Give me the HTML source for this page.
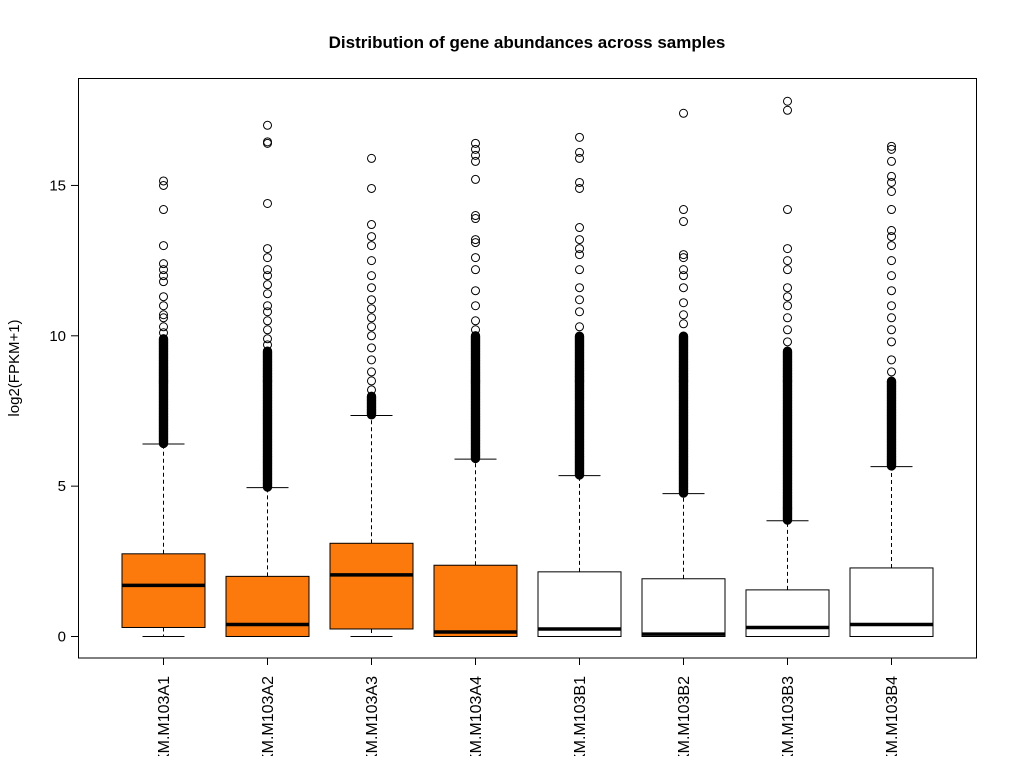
<!DOCTYPE html>
<html><head><meta charset="utf-8"><style>
html,body{margin:0;padding:0;background:#fff;}
svg text{font-family:"Liberation Sans",Arial,sans-serif;}
</style></head><body>
<svg id="chart" width="1017" height="756" viewBox="0 0 1017 756">
<text x="527" y="48" text-anchor="middle" font-size="17" font-weight="bold">Distribution of gene abundances across samples</text>
<text transform="translate(19,368) rotate(-90)" text-anchor="middle" font-size="15">log2(FPKM+1)</text>
<rect x="78.5" y="78.5" width="898" height="579.5" fill="none" stroke="#000" stroke-width="1"/>
<g id="g"></g>
</svg>
<script>
const categories=["FPKM.M103A1","FPKM.M103A2","FPKM.M103A3","FPKM.M103A4","FPKM.M103B1","FPKM.M103B2","FPKM.M103B3","FPKM.M103B4"];
const fills=["#fc7a0c","#fc7a0c","#fc7a0c","#fc7a0c","#fff","#fff","#fff","#fff"];
const lowerWhisker=[0,0,0,0,0,0,0,0];
const q1=[0.3,0,0.25,0,0,0,0,0];
const median=[1.7,0.4,2.05,0.15,0.25,0.08,0.3,0.4];
const q3=[2.75,2.0,3.1,2.37,2.15,1.92,1.55,2.28];
const upperWhisker=[6.4,4.95,7.35,5.9,5.35,4.75,3.85,5.65];
const denseTop=[9.9,9.5,8.0,10.0,10.0,10.0,9.5,8.5];
const sparseOutliers=[
[10.1,10.3,10.6,10.7,11.0,11.3,11.8,12.0,12.2,12.4,13.0,14.2,15.0,15.15],
[9.7,9.9,10.2,10.5,10.8,11.0,11.4,11.7,12.0,12.2,12.6,12.9,14.4,16.4,16.45,17.0],
[8.2,8.5,8.8,9.2,9.6,10.0,10.3,10.6,10.9,11.2,11.6,12.0,12.5,13.0,13.3,13.7,14.9,15.9],
[10.2,10.5,11.0,11.5,12.2,12.6,13.1,13.2,13.9,14.0,15.2,15.8,16.0,16.2,16.4],
[10.3,10.8,11.2,11.6,12.2,12.7,12.9,13.2,13.6,14.9,15.1,15.9,16.1,16.6],
[10.4,10.7,11.1,11.6,12.0,12.2,12.6,12.7,13.8,14.2,17.4],
[9.8,10.2,10.6,11.0,11.3,11.6,12.2,12.5,12.9,14.2,17.5,17.8],
[8.8,9.2,9.8,10.2,10.6,11.0,11.5,12.0,12.5,13.0,13.3,13.5,14.2,14.8,15.1,15.3,15.8,16.2,16.3]
];
const yTicks=[0,5,10,15];
const yS=v=>636.5-v*30.07;
const xS=i=>163.5+i*104;
const NS="http://www.w3.org/2000/svg";
const g=document.getElementById('g');
function mk(t,a){const e=document.createElementNS(NS,t);for(const k in a)e.setAttribute(k,a[k]);g.appendChild(e);return e;}
yTicks.forEach(t=>{
 const l=mk('line',{x1:71,x2:78.5,y1:yS(t),y2:yS(t),stroke:'#000'});
 
 
 const tx=mk('text',{x:66,y:yS(t)+5,'text-anchor':'end','font-size':15});
 tx.textContent=t;
 
 
});
categories.forEach((c,i)=>{
 const x=xS(i),hw=41.5;
 const tk=mk('line',{x1:x,x2:x,y1:658,y2:665,stroke:'#000'});
 
 
 const lb=mk('text',{transform:`translate(${x+5.5},676) rotate(-90)`,'text-anchor':'end','font-size':16});
 lb.textContent=c;
 
 
 const wu=mk('line',{x1:x,x2:x,y1:yS(q3[i]),y2:yS(upperWhisker[i]),stroke:'#000','stroke-dasharray':'4,3'});
 
 
 const wl=mk('line',{x1:x,x2:x,y1:yS(q1[i]),y2:yS(lowerWhisker[i]),stroke:'#000','stroke-dasharray':'4,3'});
 
 
 [upperWhisker[i],lowerWhisker[i]].forEach(v=>{
  const cap=mk('line',{x1:x-21,x2:x+21,y1:yS(v),y2:yS(v),stroke:'#000'});
  
  
 });
 const b=mk('rect',{x:x-hw,y:yS(q3[i]),width:hw*2,height:yS(q1[i])-yS(q3[i]),fill:fills[i],stroke:'#000'});
 
 
 const m=mk('line',{x1:x-hw,x2:x+hw,y1:yS(median[i]),y2:yS(median[i]),stroke:'#000','stroke-width':3.5});
 
 
 for(let v=upperWhisker[i]+0.02;v<=denseTop[i];v+=0.02){
  const o=mk('circle',{cx:x,cy:yS(v),r:4,fill:'none',stroke:'#000','stroke-width':1.3});
  
  
 }
 sparseOutliers[i].forEach(v=>{
  const o=mk('circle',{cx:x,cy:yS(v),r:4,fill:'none',stroke:'#000','stroke-width':1});
  
  
 });
});
</script>
</body></html>
